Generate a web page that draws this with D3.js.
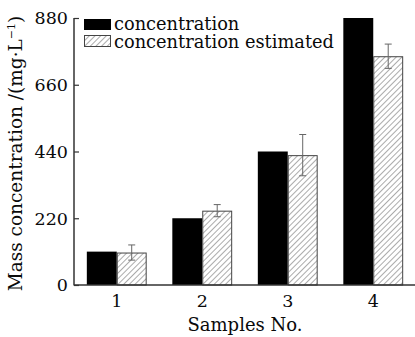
<!DOCTYPE html>
<html>
<head>
<meta charset="utf-8">
<script src="https://cdn.jsdelivr.net/npm/d3@7"></script>
<style>
  html, body { margin: 0; padding: 0; background: #fff; }
  svg { display: block; }
  text { font-family: "DejaVu Serif", serif; fill: #0a0a0a; }
</style>
</head>
<body>
<svg id="chart" width="415" height="337"></svg>
<script>
// Sample numbers, measured and estimated mass concentration (mg/L)
const samples = ["1", "2", "3", "4"];
const measured = [110, 220, 440, 880];
const estimated = [107, 245, 428, 754];
const estimatedErr = [25, 20, 68, 40];
const yTicks = [0, 220, 440, 660, 880];
const seriesNames = ["concentration", "concentration estimated"];

const svg = d3.select("#chart");
const plotL = 74, plotR = 416, plotT = 18, plotB = 285;

const x = d3.scaleBand().domain(samples).range([plotL, plotR]).padding(0);
const y = d3.scaleLinear().domain([0, 880]).range([plotB, plotT]);
const barW = x.bandwidth() * 0.35;

// diagonal hatch fill
const defs = svg.append("defs");
const pat = defs.append("pattern")
  .attr("id", "hatch")
  .attr("patternUnits", "userSpaceOnUse")
  .attr("width", 4).attr("height", 4)
  .attr("patternTransform", "rotate(45)");
pat.append("rect").attr("width", 4).attr("height", 4).attr("fill", "#fff");
pat.append("line").attr("x1", 0).attr("y1", 0).attr("x2", 0).attr("y2", 4)
  .attr("stroke", "#666").attr("stroke-width", 1.1);

const center = d => x(d) + x.bandwidth() / 2;

// measured bars
svg.append("g").selectAll("rect")
  .data(samples)
  .join("rect")
  .attr("x", d => center(d) - barW)
  .attr("y", (d, i) => y(measured[i]))
  .attr("width", barW)
  .attr("height", (d, i) => y(0) - y(measured[i]))
  .attr("fill", "#000");

// estimated bars
svg.append("g").selectAll("rect")
  .data(samples)
  .join("rect")
  .attr("x", d => center(d) + 0.5)
  .attr("y", (d, i) => y(estimated[i]) + 0.5)
  .attr("width", barW - 1)
  .attr("height", (d, i) => y(0) - y(estimated[i]) - 0.5)
  .attr("fill", "url(#hatch)")
  .attr("stroke", "#444")
  .attr("stroke-width", 1);

// error bars on the estimated series
const eg = svg.append("g").attr("stroke", "#666").attr("stroke-width", 1);
samples.forEach((d, i) => {
  const cx = center(d) + barW / 2;
  const y1 = y(estimated[i] + estimatedErr[i]);
  const y2 = y(estimated[i] - estimatedErr[i]);
  eg.append("line").attr("x1", cx).attr("x2", cx).attr("y1", y1).attr("y2", y2);
  eg.append("line").attr("x1", cx - 3.5).attr("x2", cx + 3.5).attr("y1", y1).attr("y2", y1);
  eg.append("line").attr("x1", cx - 3.5).attr("x2", cx + 3.5).attr("y1", y2).attr("y2", y2);
});

// y axis with inward ticks
const yAxis = svg.append("g")
  .attr("transform", `translate(${plotL},0)`)
  .call(d3.axisRight(y).tickValues(yTicks).tickSize(5).tickFormat(""));
yAxis.select(".domain").remove();
yAxis.selectAll(".tick line").attr("stroke", "#333").attr("stroke-width", 1.2);
svg.append("line").attr("x1", plotL).attr("x2", plotL).attr("y1", plotT).attr("y2", plotB + 0.5)
  .attr("stroke", "#333").attr("stroke-width", 1.5);
svg.append("g").selectAll("text")
  .data(yTicks)
  .join("text")
  .attr("x", plotL - 6)
  .attr("y", d => y(d))
  .attr("dy", "0.36em")
  .attr("text-anchor", "end")
  .attr("font-size", 17.5)
  .text(d => d);

// x axis
svg.append("line").attr("x1", plotL).attr("x2", 415).attr("y1", plotB).attr("y2", plotB)
  .attr("stroke", "#333").attr("stroke-width", 1.5);
svg.append("g").selectAll("text")
  .data(samples)
  .join("text")
  .attr("x", d => center(d))
  .attr("y", 307)
  .attr("text-anchor", "middle")
  .attr("font-size", 17.5)
  .text(d => d);

// axis titles
svg.append("text")
  .attr("x", (plotL + plotR) / 2)
  .attr("y", 331)
  .attr("text-anchor", "middle")
  .attr("font-size", 18)
  .text("Samples No.");

const yl = svg.append("text")
  .attr("transform", `translate(22,${(plotT + plotB) / 2 + 2}) rotate(-90)`)
  .attr("text-anchor", "middle")
  .attr("font-size", 18.5);
yl.append("tspan").text("Mass concentration /(mg·L");
yl.append("tspan").attr("font-size", 11).attr("dy", -7).text("−1");
yl.append("tspan").attr("dy", 7).text(")");

// legend
const lg = svg.append("g");
lg.append("rect").attr("x", 84).attr("y", 19).attr("width", 27).attr("height", 11).attr("fill", "#000");
lg.append("rect").attr("x", 84.5).attr("y", 35.5).attr("width", 26).attr("height", 11)
  .attr("fill", "url(#hatch)").attr("stroke", "#444").attr("stroke-width", 1);
lg.selectAll("text")
  .data(seriesNames)
  .join("text")
  .attr("x", 114)
  .attr("y", (d, i) => 29.5 + i * 18)
  .attr("font-size", 17.8)
  .text(d => d);
</script>
</body>
</html>
